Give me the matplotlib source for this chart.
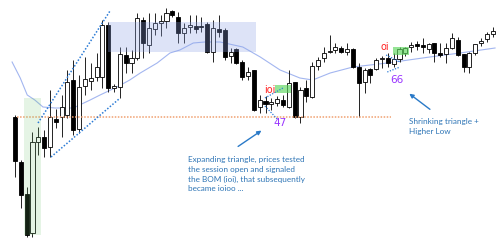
import matplotlib
matplotlib.use("Agg")
import matplotlib.pyplot as plt
from matplotlib.patches import Rectangle

# OHLC (arbitrary price units)
opens = [125, 80, 48, 9, 100, 105, 95, 123, 125, 127, 162, 113, 156, 161, 165, 165, 217, 154, 155, 187,
         179, 184, 222, 197, 213, 219, 221, 231, 225, 209, 215, 216, 216, 218, 190, 213, 212, 186, 193, 180,
         166, 172, 135, 141, 138, 139, 142, 135, 160, 125, 154, 145, 176, 184, 190, 192, 194, 190, 193, 175,
         160, 173, 173, 183, 184, 178, 183, 189, 195, 198, 197, 193, 199, 189, 188, 194, 202, 188, 175, 189,
         199, 203, 208]
highs = [127, 82, 55, 110, 115, 112, 152, 133, 147, 172, 182, 167, 185, 179, 189, 222, 220, 158, 195, 195,
         192, 229, 225, 229, 229, 227, 234, 232, 230, 219, 227, 227, 225, 220, 222, 227, 214, 194, 194, 182,
         175, 172, 147, 146, 144, 146, 147, 172, 160, 155, 162, 180, 185, 195, 207, 199, 196, 199, 194, 179,
         174, 174, 184, 186, 189, 189, 195, 195, 200, 201, 204, 199, 199, 199, 199, 209, 205, 188, 190, 198,
         204, 210, 215]
lows = [65, 34, 5, 5, 87, 85, 85, 114, 105, 124, 107, 109, 147, 152, 161, 154, 150, 150, 144, 169,
        169, 182, 184, 189, 207, 206, 214, 225, 199, 199, 209, 209, 210, 189, 180, 205, 182, 179, 178, 162,
        162, 131, 129, 129, 132, 136, 135, 134, 124, 119, 140, 144, 172, 180, 189, 189, 189, 187, 174, 125,
        149, 159, 172, 174, 175, 175, 180, 186, 190, 192, 189, 189, 180, 185, 179, 193, 186, 170, 169, 187,
        196, 200, 205]
closes = [81, 47, 7, 100, 105, 94, 125, 120, 135, 160, 112, 155, 163, 164, 175, 217, 154, 156, 188, 179,
          184, 224, 199, 214, 219, 221, 229, 227, 209, 214, 217, 213, 215, 190, 214, 210, 185, 190, 179, 165,
          170, 132, 142, 138, 140, 143, 137, 159, 125, 152, 146, 176, 182, 189, 191, 195, 190, 193, 175, 159,
          172, 167, 182, 184, 179, 183, 193, 194, 197, 196, 195, 198, 189, 187, 194, 204, 187, 175, 189, 198,
          201, 208, 211]

# moving average as traced (bar index, value)
ma_idx = [-0.5, 0.9, 2.1, 3.4, 4.8, 6.9, 10.0, 12.9, 14.6, 17.5, 19.7, 21.5, 24.4, 26.6, 28.3, 30.6,
          32.6, 35.2, 39.1, 42.1, 45.5, 48.9, 51.1, 54.1, 58.0, 63.9, 71.2, 76.4, 82.4]
ma_val = [180, 164, 147, 142, 135, 134, 134, 142, 147, 155, 162, 169, 179, 189, 192, 199,
          200, 200, 195, 185, 172, 164, 162, 169, 175, 179, 185, 189, 194]

session_open = 125
note_left = "Expanding triangle, prices tested\nthe session open and signaled\nthe BOM (ioi), that subsequently\nbecame ioioo ..."
note_right = "Shrinking triangle +\nHigher Low"

BLUE_TXT = "#2e75b6"
ARROW = "#2a7ac8"
DOTS = "#2b7bd6"

fig = plt.figure(figsize=(5.0, 2.42), dpi=100)
ax = fig.add_axes([0, 0, 1, 1])
ax.set_xlim(-2.575, 83.25)
ax.set_ylim(0, 242)
ax.axis("off")

x = list(range(len(opens)))
ax.vlines(x, lows, highs, color="#222222", lw=0.7, zorder=2)
bottoms = [min(o, c) for o, c in zip(opens, closes)]
heights = [max(abs(c - o), 0.8) for o, c in zip(opens, closes)]
faces = ["black" if c < o else "white" for o, c in zip(opens, closes)]
ax.bar(x, heights, bottom=bottoms, width=0.7, color=faces, edgecolor="black", lw=0.6, zorder=3)

ax.plot(ma_idx, ma_val, color="#a3b6f0", lw=0.8, zorder=1)

# session open
ax.plot([0.3, 64.5], [session_open, session_open], color="#f0a070", lw=1.1, ls=(0, (1, 1)), zorder=4)

# shaded zones
ax.add_patch(Rectangle((15.96, 190), 25.44, 30, facecolor="#8fa5e6", alpha=0.3, lw=0, zorder=5))
ax.add_patch(Rectangle((1.55, 7), 2.91, 137, facecolor="#6fc26f", alpha=0.18, lw=0, zorder=5))
ax.add_patch(Rectangle((44.6, 149), 2.7, 8, facecolor="#5cd65c", alpha=0.65, lw=0, zorder=5))
ax.add_patch(Rectangle((64.9, 187), 2.7, 8, facecolor="#5cd65c", alpha=0.65, lw=0, zorder=5))

# wedge lines
ax.plot([3.95, 16.3], [119, 231], color=DOTS, lw=1.1, ls=(0, (1, 1.2)), zorder=6)
ax.plot([6.18, 17.85], [85, 143], color=DOTS, lw=1.1, ls=(0, (1, 1.2)), zorder=6)
ax.plot([42.9, 46.0], [144, 154], color=DOTS, lw=0.9, ls=(0, (1, 1.2)), zorder=6)
ax.plot([42.9, 45.0], [136, 123], color=DOTS, lw=0.9, ls=(0, (1, 1.2)), zorder=6)
ax.plot([63.7, 66.1], [187, 180], color=DOTS, lw=0.9, ls=(0, (1, 1.2)), zorder=6)
ax.plot([63.9, 66.1], [170, 175], color=DOTS, lw=0.9, ls=(0, (1, 1.2)), zorder=6)

ax.text(43.8, 152, "ioi", color="#ff2020", fontsize=7, ha="center", va="center", zorder=7)
ax.text(45.5, 119, "47", color="#9933ff", fontsize=7.5, ha="center", va="center", zorder=7)
ax.text(63.5, 195, "oi", color="#ff2020", fontsize=7, ha="center", va="center", zorder=7)
ax.text(65.6, 162, "66", color="#9933ff", fontsize=7.5, ha="center", va="center", zorder=7)

ax.annotate("", xy=(42.7, 113), xytext=(37.9, 94),
            arrowprops=dict(arrowstyle="-|>", color=ARROW, lw=1.0, mutation_scale=6), zorder=7)
ax.annotate("", xy=(67.3, 150), xytext=(71.6, 131),
            arrowprops=dict(arrowstyle="-|>", color=ARROW, lw=1.0, mutation_scale=6), zorder=7)

ax.text(29.7, 86, note_left, color=BLUE_TXT, fontsize=5.9, family="Lato",
        ha="left", va="top", linespacing=1.45, zorder=7)
ax.text(67.6, 124, note_right, color=BLUE_TXT, fontsize=5.9, family="Lato",
        ha="left", va="top", linespacing=1.45, zorder=7)

fig.savefig("out.png", dpi=100)
